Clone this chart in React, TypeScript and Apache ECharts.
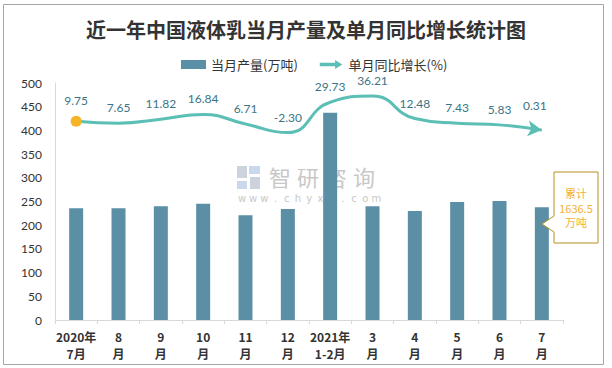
import React, { useEffect, useRef } from "react";
import * as echarts from "echarts";

const categories = ["2020年\n7月", "8\n月", "9\n月", "10\n月", "11\n月", "12\n月", "2021年\n1-2月", "3\n月", "4\n月", "5\n月", "6\n月", "7\n月"];
const production = [236, 236, 240, 245, 221, 234, 437, 240, 230, 249, 251, 238];
const growth = [9.75, 7.65, 11.82, 16.84, 6.71, -2.3, 29.73, 36.21, 12.48, 7.43, 5.83, 0.31];
const yTicks = { min: 0, max: 500, interval: 50 };
const titleText = "近一年中国液体乳当月产量及单月同比增长统计图";
const seriesNames = ["当月产量(万吨)", "单月同比增长(%)"];
const calloutLines = ["累计", "1636.5", "万吨"];
const watermarkChars = ["智", "研", "咨", "询"];
const watermarkUrl = "www.chyxx.com";

const BAR = "#5b8fa6";
const LINE = "#5cbfb5";
const CJK = "'Noto Sans CJK SC', 'Lato', sans-serif";
const NUM = "'Lato', 'Noto Sans CJK SC', sans-serif";

export default function App() {
  const ref = useRef<HTMLDivElement>(null);
  useEffect(() => {
    const chart = echarts.init(ref.current!, null, { renderer: "svg" });
    const lineData = growth.map((v, i) => {
      if (i === 0) return { value: v, symbol: "circle", symbolSize: 11, itemStyle: { color: "#f5b427" } };
      if (i === growth.length - 1) return { value: v, symbol: "arrow", symbolSize: [12, 14], symbolRotate: -97, itemStyle: { color: LINE } };
      return v;
    });
    chart.setOption({
      animation: false,
      title: {
        text: titleText,
        left: "center",
        top: 14,
        textStyle: { fontFamily: CJK, fontSize: 20, fontWeight: "bold", color: "#333" },
      },
      legend: {
        left: 176,
        top: 53,
        itemWidth: 25,
        itemHeight: 9,
        itemGap: 22,
        textStyle: { fontFamily: CJK, fontSize: 13, color: "#333" },
        data: [
          { name: seriesNames[0], icon: "rect" },
          { name: seriesNames[1], icon: "path://M0,3 L17,3 L17,0 L25,5 L17,10 L17,7 L0,7 Z" },
        ],
      },
      grid: { left: 55, right: 49, top: 83, bottom: 48 },
      xAxis: {
        type: "category",
        data: categories,
        axisLine: { lineStyle: { color: "#d9d9d9", width: 1 } },
        axisTick: { show: true, length: 4, lineStyle: { color: "#d9d9d9" } },
        axisLabel: {
          margin: 8,
          fontFamily: CJK,
          fontSize: 12,
          fontWeight: "bold",
          color: "#333",
          lineHeight: 17,
          interval: 0,
        },
      },
      yAxis: [
        {
          type: "value",
          min: yTicks.min,
          max: yTicks.max,
          interval: yTicks.interval,
          splitLine: { show: false },
          axisLine: { show: true, lineStyle: { color: "#d9d9d9" } },
          axisTick: { show: false },
          axisLabel: { margin: 13, fontFamily: NUM, fontSize: 12, color: "#333" },
        },
        { type: "value", min: -200, max: 50, show: false, splitLine: { show: false } },
      ],
      series: [
        {
          name: seriesNames[0],
          type: "bar",
          data: production,
          barWidth: 14,
          itemStyle: { color: BAR },
        },
        {
          name: seriesNames[1],
          type: "line",
          yAxisIndex: 1,
          smooth: 0.5,
          data: lineData,
          symbol: "circle",
          symbolSize: 1,
          lineStyle: { color: LINE, width: 3 },
          itemStyle: { color: LINE },
          label: {
            show: true,
            position: "top",
            distance: 9,
            fontFamily: NUM,
            fontSize: 12,
            color: "#3b7585",
            formatter: (p: any) => Number(p.value).toFixed(2),
          },
          z: 5,
        },
      ],
      graphic: [
        { type: "rect", shape: { x: 3.5, y: 4.5, width: 600, height: 360 }, style: { fill: "none", stroke: "#a6a6a6", lineWidth: 1 }, silent: true },
        // watermark logo
        { type: "rect", shape: { x: 237, y: 166, width: 10, height: 12 }, style: { fill: "#cdd3dc" }, z: 0 },
        { type: "rect", shape: { x: 249, y: 166, width: 11, height: 8 }, style: { fill: "#c9d8ea" }, z: 0 },
        { type: "rect", shape: { x: 237, y: 181, width: 10, height: 8 }, style: { fill: "#c9d8ea" }, z: 0 },
        { type: "rect", shape: { x: 250, y: 177, width: 10, height: 12 }, style: { fill: "#cdd3dc" }, z: 0 },
        ...watermarkChars.map((c, i) => ({
          type: "text",
          x: 280 + i * 28,
          y: 176,
          style: { text: c, font: "22px 'Noto Sans CJK SC'", fill: "#c8c8c8", textAlign: "center", textVerticalAlign: "middle" },
          z: 0,
        })),
        ...watermarkUrl.split("").map((c, i) => ({
          type: "text",
          x: 242 + i * 11.2,
          y: 198,
          style: { text: c, font: "10px 'DejaVu Sans'", fill: "#c8c8c8", textAlign: "center", textVerticalAlign: "middle" },
          z: 0,
        })),
        // callout
        {
          type: "polygon",
          shape: { points: [[554, 172], [598, 172], [598, 243], [554, 243], [554, 232], [542, 224], [554, 216]] },
          style: { fill: "#fff", stroke: "#b8901c", lineWidth: 1 },
          z: 10,
        },
        ...calloutLines.map((t, i) => ({
          type: "text",
          x: 576,
          y: 193 + i * 14.5,
          style: { text: t, font: "11px 'Noto Sans CJK SC'", fill: "#f2b233", textAlign: "center", textVerticalAlign: "middle" },
          z: 11,
        })),
      ],
    });
    return () => chart.dispose();
  }, []);
  return <div ref={ref} style={{ position: "fixed", left: 0, top: 0, width: 612, height: 368, background: "#fff" }} />;
}
